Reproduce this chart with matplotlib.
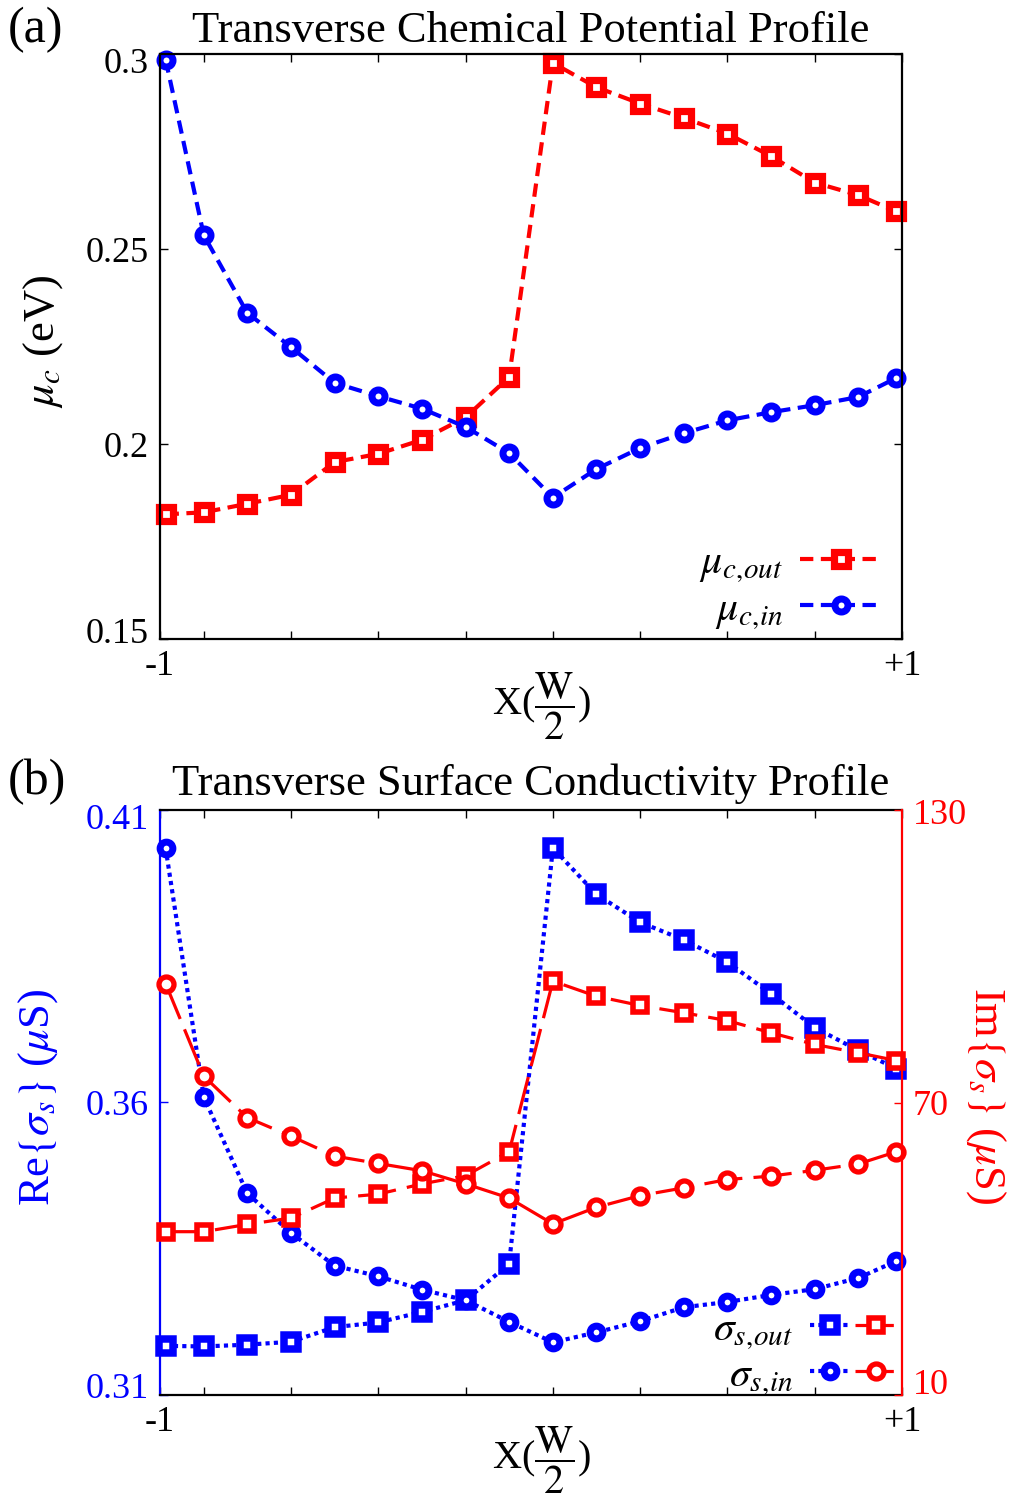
import matplotlib
matplotlib.use('Agg')
import matplotlib.pyplot as plt
from matplotlib.lines import Line2D
from matplotlib.legend_handler import HandlerTuple
from matplotlib.transforms import ScaledTranslation

plt.rcParams['font.family'] = ['Liberation Serif', 'DejaVu Serif']
plt.rcParams['mathtext.fontset'] = 'stix'

# ---------------- data ----------------
x = [-0.985, -0.882, -0.765, -0.647, -0.529, -0.412, -0.294, -0.176, -0.059,
     0.059, 0.176, 0.294, 0.412, 0.529, 0.647, 0.765, 0.882, 0.985]

mu_out = [0.1820, 0.1825, 0.1847, 0.1870, 0.1954, 0.1975, 0.2011, 0.2069, 0.2172,
          0.2978, 0.2916, 0.2874, 0.2837, 0.2797, 0.2739, 0.2671, 0.2639, 0.2597]
mu_in = [0.2987, 0.2536, 0.2337, 0.2249, 0.2157, 0.2123, 0.2091, 0.2044, 0.1977,
         0.1863, 0.1936, 0.1990, 0.2028, 0.2061, 0.2082, 0.2100, 0.2121, 0.2170]

re_out = [0.3184, 0.3183, 0.3186, 0.3191, 0.3216, 0.3224, 0.3242, 0.3262, 0.3324,
          0.4035, 0.3956, 0.3908, 0.3878, 0.3840, 0.3786, 0.3728, 0.3689, 0.3658]
re_in = [0.4035, 0.3609, 0.3445, 0.3377, 0.3321, 0.3303, 0.3280, 0.3262, 0.3225,
         0.3190, 0.3207, 0.3226, 0.3250, 0.3259, 0.3271, 0.3281, 0.3300, 0.3329]
im_out = [43.5, 43.5, 45.0, 46.3, 50.4, 51.2, 53.3, 55.0, 59.9,
          94.9, 91.8, 89.9, 88.4, 86.8, 84.3, 81.9, 80.2, 78.6]
im_in = [94.4, 75.4, 66.9, 63.1, 59.0, 57.5, 56.0, 53.3, 50.4,
         45.1, 48.5, 50.9, 52.5, 54.2, 54.9, 56.1, 57.4, 59.9]

x_ticks = [-1, -0.882, -0.647, -0.412, -0.176, 0.059, 0.294, 0.529, 0.765, 1]
x_ticklabels = ['-1', '', '', '', '', '', '', '', '', '+1']
mu_ticks = [0.15, 0.2, 0.25, 0.3]
mu_ticklabels = ['0.15', '0.2', '0.25', '0.3']
re_ticks = [0.31, 0.36, 0.41]
re_ticklabels = ['0.31', '0.36', '0.41']
im_ticks = [10, 70, 130]
im_ticklabels = ['10', '70', '130']

# ---------------- figure ----------------
fig = plt.figure(figsize=(10.16, 15), dpi=100)
ax1 = fig.add_axes([0.1575, 0.574, 0.7303, 0.3897])
axb = fig.add_axes([0.1575, 0.07, 0.7303, 0.39])

TICK_FS = 26
LAB_FS = 32
TITLE_FS = 32
XLAB_FS = 29
LEG_FS = 30
BLUE = '#0000ff'
RED = '#ff0000'


def shift(lbl, dy_px):
    lbl.set_transform(lbl.get_transform() +
                      ScaledTranslation(0, dy_px / 100.0, fig.dpi_scale_trans))


# ---------- panel (a) ----------
l_out, = ax1.plot(x, mu_out, color=RED, lw=3, dashes=(3.2, 1.8), marker='s',
                  ms=9.6, mew=5.2, mfc='white', mec=RED, clip_on=False)
l_in, = ax1.plot(x, mu_in, color=BLUE, lw=3, dashes=(3.2, 1.8), marker='o',
                 ms=9.4, mew=5.0, mfc='white', mec=BLUE, clip_on=False)
ax1.set_xlim(-1, 1)
ax1.set_ylim(0.15, 0.3)
ax1.set_xticks(x_ticks)
ax1.set_xticklabels(x_ticklabels, fontsize=TICK_FS)
ax1.set_yticks(mu_ticks)
ax1.set_yticklabels(mu_ticklabels, fontsize=TICK_FS)
ax1.tick_params(direction='in', length=6, width=1, top=True, right=True, pad=8)
for s in ax1.spines.values():
    s.set_linewidth(1.6)
ax1.set_title('Transverse Chemical Potential Profile', fontsize=TITLE_FS, pad=9)
ax1.set_xlabel(r'X($\dfrac{\mathrm{W}}{2}$)', fontsize=XLAB_FS)
ax1.xaxis.set_label_coords(0.514, -0.053)
ax1.set_ylabel(r'$\mu_c$ (eV)', fontsize=LAB_FS)
ax1.yaxis.set_label_coords(-0.128, 0.51)
yl = ax1.get_yticklabels()
shift(yl[0], 9)
shift(yl[-1], -6)
ax1.legend([l_out, l_in], [r'$\mu_{c,\!out}$', r'$\mu_{c,\!in}$'], loc='center right',
           bbox_to_anchor=(0.9744, 0.0873), frameon=False, markerfirst=False,
           fontsize=LEG_FS, handlelength=2.0, handletextpad=0.4, borderpad=0,
           borderaxespad=0, labelspacing=0.12, numpoints=1)
fig.text(0.008, 1 - 30 / 1500, '(a)', fontsize=36, va='center', ha='left')

# ---------- panel (b) ----------
ax2 = axb.twinx()
b_out, = axb.plot(x, re_out, color=BLUE, lw=3, dashes=(1, 1), marker='s',
                  ms=9.4, mew=5.4, mfc='white', mec=BLUE, clip_on=False)
b_in, = axb.plot(x, re_in, color=BLUE, lw=3, dashes=(1, 1), marker='o',
                 ms=9.2, mew=5.0, mfc='white', mec=BLUE, clip_on=False)
r_out, = ax2.plot(x, im_out, color=RED, lw=2.3, dashes=(12, 3.5), marker='s',
                  ms=9.8, mew=4.0, mfc='white', mec=RED, clip_on=False)
r_in, = ax2.plot(x, im_in, color=RED, lw=2.3, dashes=(12, 3.5), marker='o',
                 ms=10.8, mew=3.8, mfc='white', mec=RED, clip_on=False)

axb.set_xlim(-1, 1)
axb.set_ylim(0.31, 0.41)
ax2.set_ylim(10, 130)
axb.set_xticks(x_ticks)
axb.set_xticklabels(x_ticklabels, fontsize=TICK_FS)
axb.set_yticks(re_ticks)
axb.set_yticklabels(re_ticklabels, fontsize=TICK_FS, color=BLUE)
ax2.set_yticks(im_ticks)
ax2.set_yticklabels(im_ticklabels, fontsize=TICK_FS, color=RED)
axb.tick_params(axis='x', direction='in', length=6, width=1, top=True, pad=8)
axb.tick_params(axis='y', direction='in', length=6, width=1, colors=BLUE, pad=8)
ax2.tick_params(axis='y', direction='in', length=6, width=1, colors=RED, pad=8)
for s in axb.spines.values():
    s.set_linewidth(1.6)
axb.spines['left'].set_color(BLUE)
axb.spines['right'].set_visible(False)
for k in ('left', 'top', 'bottom'):
    ax2.spines[k].set_visible(False)
ax2.spines['right'].set_color(RED)
ax2.spines['right'].set_linewidth(1.6)

axb.set_title('Transverse Surface Conductivity Profile', fontsize=TITLE_FS, pad=11)
axb.set_xlabel(r'X($\dfrac{\mathrm{W}}{2}$)', fontsize=XLAB_FS)
axb.xaxis.set_label_coords(0.514, -0.051)
axb.set_ylabel(r'Re$\{\sigma_s\}$ ($\mu$S)', fontsize=LAB_FS, color=BLUE)
axb.yaxis.set_label_coords(-0.135, 0.509)
ax2.set_ylabel(r'Im$\{\sigma_s\}$ ($\mu$S)', fontsize=LAB_FS, color=RED,
               rotation=270, va='bottom')
ax2.yaxis.set_label_coords(1.083, 0.512)

yl = axb.get_yticklabels()
shift(yl[0], 10)
shift(yl[-1], -7)
yr = ax2.get_yticklabels()
shift(yr[0], 13)
shift(yr[-1], -2)

ax2.legend([(b_out, r_out), (b_in, r_in)], [r'$\sigma_{s,\!out}$', r'$\sigma_{s,\!in}$'],
           handler_map={tuple: HandlerTuple(ndivide=None, pad=0.1)},
           loc='center right', bbox_to_anchor=(0.9933, 0.070), frameon=False,
           markerfirst=False, fontsize=LEG_FS, handlelength=2.1, handletextpad=0.4,
           borderpad=0, borderaxespad=0, labelspacing=0.12, numpoints=1)
fig.text(0.008, 1 - 782 / 1500, '(b)', fontsize=36, va='center', ha='left')

fig.savefig('out.png', dpi=100)
